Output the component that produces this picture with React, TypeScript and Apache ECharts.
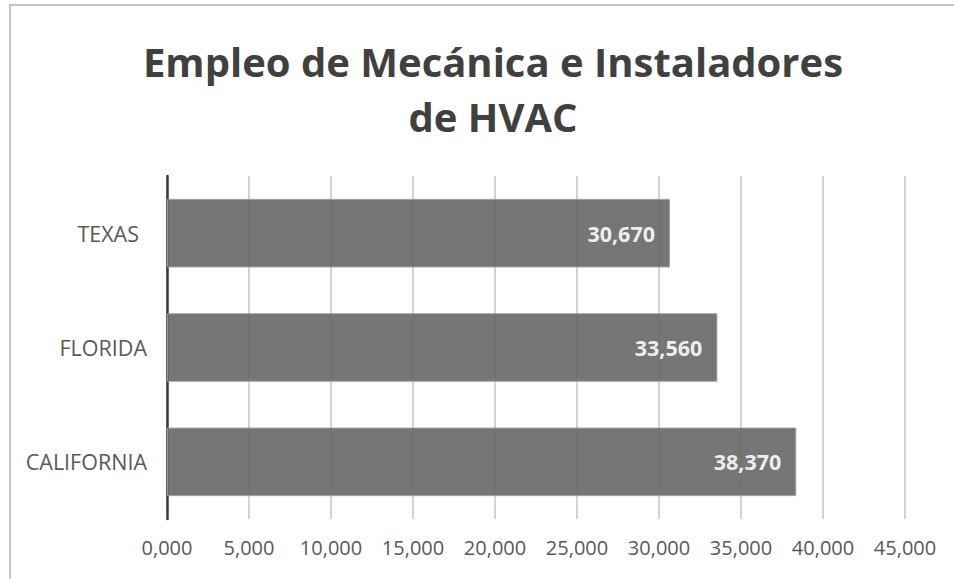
import React, { useEffect, useRef } from "react";
import * as echarts from "echarts";

const titleText = "Empleo de Mecánica e Instaladores\nde HVAC";
const categories = ["TEXAS", "FLORIDA", "CALIFORNIA"];
const values = [30670, 33560, 38370];
const axisMin = 0;
const axisMax = 45000;
const axisStep = 5000;

function fmt(v: number): string {
  const th = Math.floor(v / 1000);
  const rest = Math.round(v % 1000);
  return `${th},${String(rest).padStart(3, "0")}`;
}

export default function App() {
  const ref = useRef<HTMLDivElement>(null);
  useEffect(() => {
    if (!ref.current) return;
    const chart = echarts.init(ref.current, undefined, { renderer: "svg" });
    const font = "'Open Sans', 'Noto Sans', sans-serif";
    chart.setOption({
      animation: false,
      backgroundColor: "#ffffff",
      textStyle: { fontFamily: font },
      title: {
        text: titleText,
        left: 488,
        top: 29,
        textAlign: "center",
        textStyle: {
          fontFamily: font,
          fontSize: 40,
          fontWeight: "bold",
          color: "#404040",
          lineHeight: 55,
        },
      },
      graphic: [
        { type: "line", shape: { x1: 9, y1: 5, x2: 954, y2: 5 }, style: { stroke: "#c6c6c6", lineWidth: 2 } },
        { type: "line", shape: { x1: 10, y1: 4, x2: 10, y2: 579 }, style: { stroke: "#c6c6c6", lineWidth: 2 } },
      ],
      grid: { left: 167, right: 49, top: 176, bottom: 60, containLabel: false },
      xAxis: {
        type: "value",
        min: axisMin,
        max: axisMax,
        interval: axisStep,
        axisLine: { show: false },
        axisTick: { show: false },
        splitLine: { show: true, lineStyle: { color: "#c4c4c4", width: 1.5 } },
        axisLabel: {
          formatter: (v: number) => fmt(v),
          color: "#595959",
          fontSize: 20,
          fontFamily: font,
          margin: 18,
        },
      },
      yAxis: {
        type: "category",
        inverse: true,
        data: categories.map((c, i) =>
          i === 0 ? { value: c, textStyle: { padding: [0, 8, 0, 0] } } : c
        ),
        axisLine: { show: true, lineStyle: { color: "#3a3a3a", width: 2.5 } },
        axisTick: { show: false },
        splitLine: { show: false },
        axisLabel: { color: "#595959", fontSize: 21.5, fontFamily: font, margin: 20 },
      },
      series: [
        {
          type: "bar",
          data: values,
          barWidth: "60%",
          itemStyle: { color: "#676767", opacity: 0.9, borderColor: "#a0a0a0", borderWidth: 1 },
          label: {
            show: true,
            position: "insideRight",
            distance: 15,
            formatter: (p: any) => p.value.toLocaleString("en-US"),
            color: "#ffffff",
            fontWeight: "bold",
            fontSize: 21.5,
            fontFamily: font,
          },
        },
      ],
    });
    return () => chart.dispose();
  }, []);
  return (
    <div
      ref={ref}
      style={{ position: "fixed", left: 0, top: 0, width: 954, height: 579 }}
    />
  );
}
